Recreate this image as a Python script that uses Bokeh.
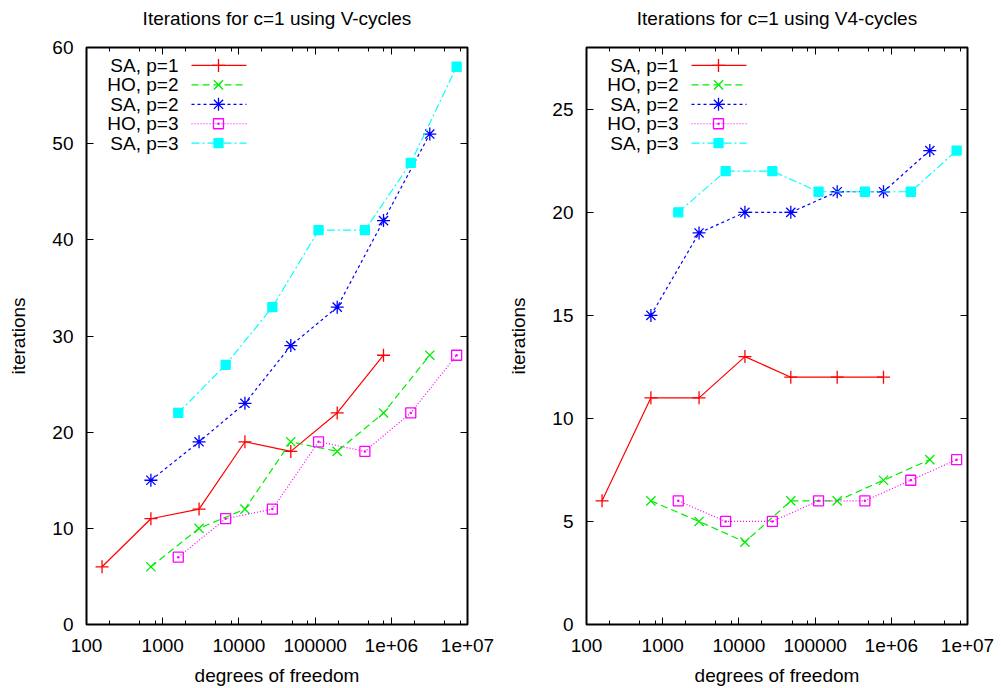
from bokeh.plotting import figure
from bokeh.models import Range1d, LinearScale, FixedTicker, LinearAxis, LogAxis, CustomJSTickFormatter
from bokeh.layouts import row
from bokeh.core.properties import value
from bokeh.embed import file_html
from bokeh.resources import INLINE

# ---------------- data ----------------
series_names = ["SA, p=1", "HO, p=2", "SA, p=2", "HO, p=3", "SA, p=3"]

dof_sa1 = [160, 700, 3000, 12000, 48000, 195000, 790000]
dof_p2 = [700, 3000, 12000, 48000, 195000, 790000, 3200000]
dof_p3 = [1600, 6700, 27500, 111000, 450000, 1800000, 7200000]

# V-cycles
v_sa1 = [6, 11, 12, 19, 18, 22, 28]
v_ho2 = [6, 10, 12, 19, 18, 22, 28]
v_sa2 = [15, 19, 23, 29, 33, 42, 51]
v_ho3 = [7, 11, 12, 19, 18, 22, 28]
v_sa3 = [22, 27, 33, 41, 41, 48, 58]

# V4-cycles
v4_sa1 = [6, 11, 11, 13, 12, 12, 12]
v4_ho2 = [6, 5, 4, 6, 6, 7, 8]
v4_sa2 = [15, 19, 20, 20, 21, 21, 23]
v4_ho3 = [6, 5, 5, 6, 6, 7, 8]
v4_sa3 = [20, 22, 22, 21, 21, 21, 23]

x_ticks = [100, 1000, 10000, 100000, 1000000, 10000000]
x_tick_labels = ["100", "1000", "10000", "100000", "1e+06", "1e+07"]
x_minor = [m * 10 ** e for e in range(2, 7) for m in (2, 5, 8)]

left_y_ticks = [0, 10, 20, 30, 40, 50, 60]
right_y_ticks = [0, 5, 10, 15, 20, 25]

titles = ["Iterations for c=1 using V-cycles", "Iterations for c=1 using V4-cycles"]

# ---------------- styles ----------------
FONT = "Liberation Sans"
FS = "19px"
styles = [
    dict(color="#ff0000", dash="solid", marker="cross", size=13, fill=None),
    dict(color="#00ee00", dash="7 4", marker="x", size=13, fill=None),
    dict(color="#0000ff", dash="3 3", marker="asterisk", size=13, fill=None),
    dict(color="#ff00ff", dash="1 2", marker="square_dot", size=10, fill=None),
    dict(color="#00ffff", dash="8 3 2 3", marker="square", size=9, fill="#00ffff"),
]
LW = 1.2
MLW = 1.3

FRAME_L, FRAME_R, FRAME_T, FRAME_B = 86, 467, 47, 626
H = 688

x_formatter_code = """
const tv = %s;
const lb = %s;
for (let i = 0; i < tv.length; i++) {
  if (Math.abs(Math.log10(tick) - Math.log10(tv[i])) < 1e-6) return lb[i];
}
return "";
""" % (str(x_ticks), str(x_tick_labels))

blank_code = 'return " ";'


def style_axis(ax, labels=True):
    ax.axis_line_color = None
    ax.major_tick_in = 7
    ax.major_tick_out = 0
    ax.minor_tick_in = 4
    ax.minor_tick_out = 0
    ax.major_tick_line_color = "black"
    ax.minor_tick_line_color = "black"
    ax.major_tick_line_width = 1
    ax.minor_tick_line_width = 1
    ax.axis_label_text_font = FONT
    ax.axis_label_text_font_size = FS
    ax.axis_label_text_font_style = "normal"
    ax.axis_label_text_color = "black"
    if labels:
        ax.major_label_text_font = FONT
        ax.major_label_text_font_size = FS
        ax.major_label_text_color = "black"
    else:
        ax.major_label_text_font_size = "2px"
        ax.major_label_text_alpha = 0
        ax.major_label_standoff = 0
        ax.formatter = CustomJSTickFormatter(code=blank_code)


def make_panel(title, xs_list, ys_list, y_end, y_ticks, width):
    p = figure(width=width, height=H, x_axis_type="log",
               x_range=Range1d(100, 1e7), y_range=Range1d(0, y_end),
               output_backend="svg", toolbar_location=None,
               min_border_left=FRAME_L, min_border_right=width - FRAME_R,
               min_border_top=FRAME_T, min_border_bottom=H - FRAME_B)
    p.background_fill_color = "white"
    p.border_fill_color = "white"
    p.outline_line_color = "black"
    p.outline_line_width = 2
    p.xgrid.visible = False
    p.ygrid.visible = False

    p.xaxis[0].ticker = FixedTicker(ticks=x_ticks, minor_ticks=x_minor)
    p.xaxis[0].formatter = CustomJSTickFormatter(code=x_formatter_code)
    p.xaxis[0].axis_label = "degrees of freedom"
    p.xaxis[0].major_label_standoff = 14
    p.xaxis[0].axis_label_standoff = 10
    p.yaxis[0].ticker = FixedTicker(ticks=y_ticks, minor_ticks=[])
    p.yaxis[0].axis_label = "iterations"
    p.yaxis[0].major_label_standoff = 13
    p.yaxis[0].axis_label_standoff = 20
    style_axis(p.xaxis[0])
    style_axis(p.yaxis[0])

    # top axis (mirrored ticks) carries the panel title
    top = LogAxis(ticker=FixedTicker(ticks=x_ticks, minor_ticks=x_minor))
    right = LinearAxis(ticker=FixedTicker(ticks=y_ticks, minor_ticks=[]))
    style_axis(top, labels=False)
    style_axis(right, labels=False)
    top.axis_label = title
    top.axis_label_standoff = 19
    p.add_layout(top, "above")
    p.add_layout(right, "right")

    for xs, ys, st in zip(xs_list, ys_list, styles):
        p.line(xs, ys, line_color=st["color"], line_width=LW, line_dash=st["dash"])
        p.scatter(xs, ys, marker=st["marker"], size=st["size"], line_color=st["color"],
                  fill_color=st["fill"], line_width=MLW)

    # legend (gnuplot style: label left, sample right), in frame pixel coords
    fw = FRAME_R - FRAME_L
    fh = FRAME_B - FRAME_T
    p.extra_x_ranges = {"lx": Range1d(0, fw)}
    p.extra_y_ranges = {"ly": Range1d(fh, 0)}
    p.extra_x_scales = {"lx": LinearScale()}
    for i, (name, st) in enumerate(zip(series_names, styles)):
        yy = 18 + 19.5 * i
        p.line([105, 160], [yy, yy], line_color=st["color"], line_width=LW,
               line_dash=st["dash"], x_range_name="lx", y_range_name="ly")
        p.scatter([132], [yy], marker=st["marker"], size=st["size"], line_color=st["color"],
                  fill_color=st["fill"], line_width=MLW, x_range_name="lx", y_range_name="ly")
        p.text([92], [yy], text=[name], text_align="right", text_baseline="middle",
               text_font=value(FONT), text_font_size=FS, text_color="black",
               x_range_name="lx", y_range_name="ly")
    return p


p1 = make_panel(titles[0],
                [dof_sa1, dof_p2, dof_p2, dof_p3, dof_p3],
                [v_sa1, v_ho2, v_sa2, v_ho3, v_sa3], 60, left_y_ticks, 500)
p2 = make_panel(titles[1],
                [dof_sa1, dof_p2, dof_p2, dof_p3, dof_p3],
                [v4_sa1, v4_ho2, v4_sa2, v4_ho3, v4_sa3], 28, right_y_ticks, 501)

layout = row(p1, p2)
open("out.html", "w").write(file_html(layout, INLINE))
